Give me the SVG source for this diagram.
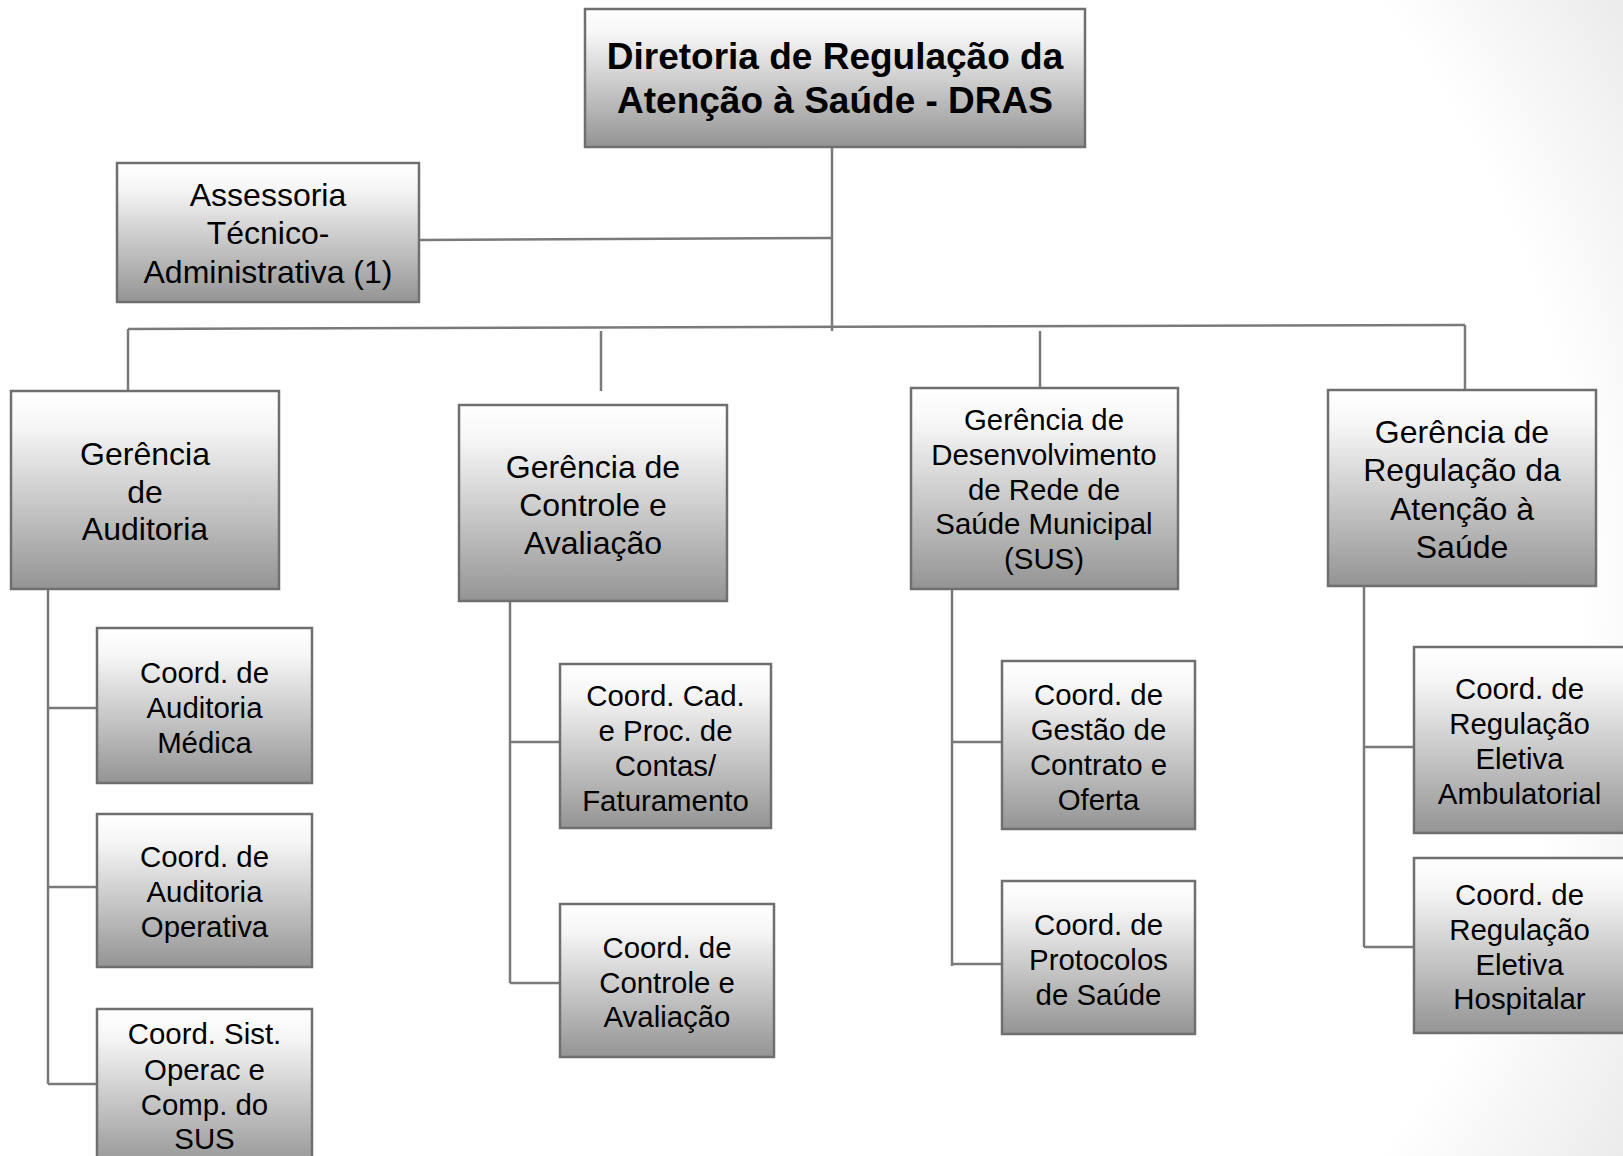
<svg xmlns="http://www.w3.org/2000/svg" width="1623" height="1156" viewBox="0 0 1623 1156">
<defs>
<radialGradient id="bg" gradientUnits="userSpaceOnUse" cx="650" cy="578" r="1132">
<stop offset="0" stop-color="#ffffff"/>
<stop offset="0.82" stop-color="#ffffff"/>
<stop offset="1" stop-color="#ebebeb"/>
</radialGradient>
<linearGradient id="box" x1="0" y1="0" x2="0" y2="1">
<stop offset="0" stop-color="#ffffff"/>
<stop offset="0.18" stop-color="#f6f6f6"/>
<stop offset="1" stop-color="#949494"/>
</linearGradient>
<style>
.b{fill:url(#box);stroke:#6f6f6f;stroke-width:2.5}
.c{stroke:#7a7a7a;stroke-width:2.5;fill:none}
text{font-family:"Liberation Sans",Arial,sans-serif;fill:#000;text-anchor:middle}
.t0{font-size:37px;font-weight:bold}
.t1{font-size:32px}
.t2{font-size:29.4px}
</style>
</defs>
<rect x="0" y="0" width="1623" height="1156" fill="url(#bg)"/>
<g id="connectors">
<path class="c" d="M832 148 V331"/>
<path class="c" d="M419 240 L832 238"/>
<path class="c" d="M128 329 L1465 325"/>
<path class="c" d="M128 329 V391"/>
<path class="c" d="M601 331 V391"/>
<path class="c" d="M1040 331 V388"/>
<path class="c" d="M1465 325 V390"/>
<path class="c" d="M48 589 V1084 M48 708 H97 M48 887 H97 M48 1084 H97"/>
<path class="c" d="M510 601 V983 M510 742 H560 M510 983 H560"/>
<path class="c" d="M952 589 V966 M952 742 H1002 M952 964 H1002"/>
<path class="c" d="M1364 586 V947 M1364 747 H1414 M1364 947 H1414"/>
</g>
<g id="dras">
<rect class="b" x="585" y="9" width="500" height="138"/>
<text class="t0" x="835" y="69">Diretoria de Regulação da</text>
<text class="t0" x="835" y="113">Atenção à Saúde - DRAS</text>
</g>
<g id="assessoria">
<rect class="b" x="117" y="163" width="302" height="139"/>
<text class="t1" x="268" y="206">Assessoria</text>
<text class="t1" x="268" y="244">Técnico-</text>
<text class="t1" x="268" y="283">Administrativa (1)</text>
</g>
<g id="ger-auditoria">
<rect class="b" x="11" y="391" width="268" height="198"/>
<text class="t1" x="145" y="465">Gerência</text>
<text class="t1" x="145" y="503">de</text>
<text class="t1" x="145" y="540">Auditoria</text>
</g>
<g id="ger-controle">
<rect class="b" x="459" y="405" width="268" height="196"/>
<text class="t1" x="593" y="478">Gerência de</text>
<text class="t1" x="593" y="516">Controle e</text>
<text class="t1" x="593" y="554">Avaliação</text>
</g>
<g id="ger-desenvolvimento">
<rect class="b" x="911" y="388" width="267" height="201"/>
<text class="t2" x="1044" y="430">Gerência de</text>
<text class="t2" x="1044" y="465">Desenvolvimento</text>
<text class="t2" x="1044" y="500">de Rede de</text>
<text class="t2" x="1044" y="534">Saúde Municipal</text>
<text class="t2" x="1044" y="569">(SUS)</text>
</g>
<g id="ger-regulacao">
<rect class="b" x="1328" y="390" width="268" height="196"/>
<text class="t1" x="1462" y="443">Gerência de</text>
<text class="t1" x="1462" y="481">Regulação da</text>
<text class="t1" x="1462" y="520">Atenção à</text>
<text class="t1" x="1462" y="558">Saúde</text>
</g>
<g id="coord-aud-medica">
<rect class="b" x="97" y="628" width="215" height="155"/>
<text class="t2" x="204.5" y="683">Coord. de</text>
<text class="t2" x="204.5" y="718">Auditoria</text>
<text class="t2" x="204.5" y="753">Médica</text>
</g>
<g id="coord-aud-operativa">
<rect class="b" x="97" y="814" width="215" height="153"/>
<text class="t2" x="204.5" y="867">Coord. de</text>
<text class="t2" x="204.5" y="902">Auditoria</text>
<text class="t2" x="204.5" y="937">Operativa</text>
</g>
<g id="coord-sist">
<rect class="b" x="97" y="1009" width="215" height="160"/>
<text class="t2" x="204.5" y="1044">Coord. Sist.</text>
<text class="t2" x="204.5" y="1080">Operac e</text>
<text class="t2" x="204.5" y="1115">Comp. do</text>
<text class="t2" x="204.5" y="1149">SUS</text>
</g>
<g id="coord-cad">
<rect class="b" x="560" y="664" width="211" height="164"/>
<text class="t2" x="665.5" y="706">Coord. Cad.</text>
<text class="t2" x="665.5" y="741">e Proc. de</text>
<text class="t2" x="665.5" y="776">Contas/</text>
<text class="t2" x="665.5" y="811">Faturamento</text>
</g>
<g id="coord-controle">
<rect class="b" x="560" y="904" width="214" height="153"/>
<text class="t2" x="667" y="958">Coord. de</text>
<text class="t2" x="667" y="993">Controle e</text>
<text class="t2" x="667" y="1027">Avaliação</text>
</g>
<g id="coord-gestao">
<rect class="b" x="1002" y="661" width="193" height="168"/>
<text class="t2" x="1098.5" y="705">Coord. de</text>
<text class="t2" x="1098.5" y="740">Gestão de</text>
<text class="t2" x="1098.5" y="775">Contrato e</text>
<text class="t2" x="1098.5" y="810">Oferta</text>
</g>
<g id="coord-protocolos">
<rect class="b" x="1002" y="881" width="193" height="153"/>
<text class="t2" x="1098.5" y="935">Coord. de</text>
<text class="t2" x="1098.5" y="970">Protocolos</text>
<text class="t2" x="1098.5" y="1005">de Saúde</text>
</g>
<g id="coord-ambulatorial">
<rect class="b" x="1414" y="647" width="212" height="186"/>
<text class="t2" x="1519.5" y="699">Coord. de</text>
<text class="t2" x="1519.5" y="734">Regulação</text>
<text class="t2" x="1519.5" y="769">Eletiva</text>
<text class="t2" x="1519.5" y="804">Ambulatorial</text>
</g>
<g id="coord-hospitalar">
<rect class="b" x="1414" y="858" width="212" height="175"/>
<text class="t2" x="1519.5" y="905">Coord. de</text>
<text class="t2" x="1519.5" y="940">Regulação</text>
<text class="t2" x="1519.5" y="975">Eletiva</text>
<text class="t2" x="1519.5" y="1009">Hospitalar</text>
</g>
</svg>
